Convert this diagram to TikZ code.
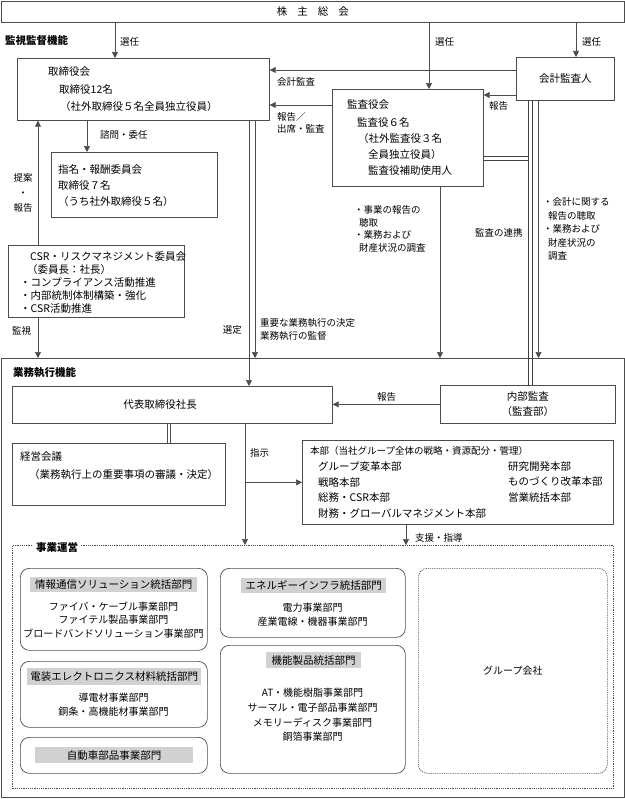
\documentclass[tikz,border=0pt]{standalone}
\usepackage{fontspec}
\setmainfont{Noto Sans CJK JP}
\usetikzlibrary{arrows.meta}

\begin{document}
\begin{tikzpicture}[x=1bp,y=-1bp]
    \tikzset{box/.style = {draw=black!70, line width=0.7bp, anchor=north west, inner sep=0}}
    \tikzset{rbox/.style = {box, rounded corners=9bp}}
    \tikzset{txt/.style = {anchor=west, inner sep=0, font=\fontsize{10.5bp}{12bp}\selectfont}}
    \tikzset{ctxt/.style = {inner sep=0, font=\fontsize{10bp}{12bp}\selectfont}}
    \tikzset{lbl/.style = {anchor=west, inner sep=0, font=\fontsize{9.5bp}{11bp}\selectfont}}
    \tikzset{hdr/.style = {anchor=west, inner sep=0, font=\fontsize{10.5bp}{12bp}\selectfont\bfseries}}
    \tikzset{title/.style = {fill=black!18, inner sep=0, anchor=north west, font=\fontsize{10.5bp}{12bp}\selectfont}}
    \tikzset{edge/.style = {draw=black!70, line width=0.7bp, -{Triangle[length=6bp,width=6bp]}}}
    \tikzset{dbl/.style = {draw=black!70, double, line width=0.6bp, double distance=2.5bp}}
    \tikzset{pline/.style = {draw=black!75, line width=0.7bp}}

    \useasboundingbox (0,0) rectangle (625,799);

    % frames
    \node[box, minimum width=623bp, minimum height=439bp] (gyomu) at (1,358) {};
    \node[box, dash pattern=on 1.2bp off 1bp, minimum width=601bp, minimum height=243bp] (jigyo) at (12,545) {};

    % supervision side
    \node[box, minimum width=623bp, minimum height=21bp, font=\fontsize{10.5bp}{12bp}\selectfont] (soukai) at (1,1)
        {株\hspace{10bp}主\hspace{10bp}総\hspace{10bp}会};
    \node[hdr] at (5,40) {監視監督機能};

    \node[box, minimum width=252bp, minimum height=62bp] (tori) at (17,58) {};
    \node[txt] at (48,72) {取締役会};
    \node[txt] at (59,90) {取締役12名};
    \node[txt] at (60,107) {（社外取締役５名全員独立役員）};

    \node[box, minimum width=98bp, minimum height=43bp, font=\fontsize{10.5bp}{12bp}\selectfont] (kaikei) at (516,57) {会計監査人};

    \node[box, minimum width=151bp, minimum height=97bp] (kansa) at (332,89) {};
    \node[txt] at (347,105) {監査役会};
    \node[txt] at (357,123) {監査役６名};
    \node[txt] at (358,139) {（社外監査役３名};
    \node[txt] at (368,155) {全員独立役員）};
    \node[txt] at (368,171) {監査役補助使用人};

    \node[box, minimum width=166bp, minimum height=65bp] (shimei) at (51,152) {};
    \node[txt] at (58,170) {指名・報酬委員会};
    \node[txt] at (58,186) {取締役７名};
    \node[txt] at (58,202) {（うち社外取締役５名）};

    \node[box, minimum width=176bp, minimum height=72bp] (csr) at (8,245) {};
    \node[txt] at (30,257) {CSR・リスクマネジメント委員会};
    \node[txt] at (27,270) {（委員長：社長）};
    \node[txt] at (20,283) {・コンプライアンス活動推進};
    \node[txt] at (20,296) {・内部統制体制構築・強化};
    \node[txt] at (20,309) {・CSR活動推進};

    % execution side
    \node[hdr] at (13,373) {業務執行機能};
    \node[box, minimum width=320bp, minimum height=37bp] (daihyo) at (12,386) {};
    \node[txt, anchor=center] at (160,405) {代表取締役社長};
    \node[box, minimum width=175bp, minimum height=38bp, align=center, font=\fontsize{10.5bp}{15bp}\selectfont] (naibu) at (440,385) {内部監査\\（監査部）};

    \node[box, minimum width=213bp, minimum height=62bp] (keiei) at (12,443) {};
    \node[txt] at (20,457) {経営会議};
    \node[txt] at (29,475) {（業務執行上の重要事項の審議・決定）};

    \node[box, minimum width=311bp, minimum height=84bp] (honbu) at (302,440) {};
    \node[lbl] at (310,451) {本部（当社グループ全体の戦略・資源配分・管理）};
    \node[txt] at (318,467) {グループ変革本部};
    \node[txt] at (318,482) {戦略本部};
    \node[txt] at (318,498) {総務・CSR本部};
    \node[txt] at (318,514) {財務・グローバルマネジメント本部};
    \node[txt] at (508,467) {研究開発本部};
    \node[txt] at (508,482) {ものづくり改革本部};
    \node[txt] at (508,498) {営業統括本部};

    % business operations
    \node[hdr, fill=white, inner sep=3bp] at (33,547) {事業運営};

    \node[rbox, minimum width=187bp, minimum height=82bp] (joho) at (20,568) {};
    \node[title, minimum width=167bp, minimum height=15bp] (joho-t) at (30,577) {情報通信ソリューション統括部門};
    \node[ctxt] at (113.5,607) {ファイバ・ケーブル事業部門};
    \node[ctxt] at (113.5,620) {ファイテル製品事業部門};
    \node[ctxt] at (113.5,634) {ブロードバンドソリューション事業部門};

    \node[rbox, minimum width=187bp, minimum height=66bp] (densou) at (20,661) {};
    \node[title, minimum width=174bp, minimum height=17bp] (densou-t) at (27,668) {電装エレクトロニクス材料統括部門};
    \node[ctxt] at (113.5,698) {導電材事業部門};
    \node[ctxt] at (113.5,712) {銅条・高機能材事業部門};

    \node[rbox, minimum width=187bp, minimum height=36bp] (jidosha) at (20,737) {};
    \node[title, minimum width=158bp, minimum height=16bp] (jidosha-t) at (35,747) {自動車部品事業部門};

    \node[rbox, minimum width=185bp, minimum height=69bp] (energy) at (220,568) {};
    \node[title, minimum width=145bp, minimum height=15bp] (energy-t) at (241,578) {エネルギーインフラ統括部門};
    \node[ctxt] at (312.5,608) {電力事業部門};
    \node[ctxt] at (312.5,622) {産業電線・機器事業部門};

    \node[rbox, minimum width=185bp, minimum height=128bp] (kinou) at (220,645) {};
    \node[title, minimum width=95bp, minimum height=16bp] (kinou-t) at (266,652) {機能製品統括部門};
    \node[ctxt] at (312.5,693) {AT・機能樹脂事業部門};
    \node[ctxt] at (312.5,708) {サーマル・電子部品事業部門};
    \node[ctxt] at (312.5,723) {メモリーディスク事業部門};
    \node[ctxt] at (312.5,737) {銅箔事業部門};

    \node[rbox, dash pattern=on 1.2bp off 1bp, minimum width=189bp, minimum height=205bp, font=\fontsize{10bp}{12bp}\selectfont] (group) at (418,568) {グループ会社};

    % columns and rows for connectors
    \coordinate (c38) at (38,0);
    \coordinate (c87) at (87,0);
    \coordinate (c115) at (115,0);
    \coordinate (c169) at (169,0);
    \coordinate (c245) at (245,0);
    \coordinate (c249) at (249,0);
    \coordinate (c255) at (255,0);
    \coordinate (c406) at (406,0);
    \coordinate (c429) at (429,0);
    \coordinate (c440) at (440,0);
    \coordinate (c528) at (528.5,0);
    \coordinate (c532) at (532.5,0);
    \coordinate (c538) at (538.5,0);
    \coordinate (c576) at (576,0);
    \coordinate (r70) at (0,70);
    \coordinate (r95) at (0,95);
    \coordinate (r105) at (0,105);
    \coordinate (r156) at (0,156.5);
    \coordinate (r160) at (0,160.5);

    % connectors
    \draw[edge] (soukai.south -| c115) -- (tori.north -| c115);
    \draw[edge] (soukai.south -| c429) -- (kansa.north -| c429);
    \draw[edge] (soukai.south -| c576) -- (kaikei.north -| c576);
    \node[lbl] at (120,42) {選任};
    \node[lbl] at (435,42) {選任};
    \node[lbl] at (582,42) {選任};

    \draw[edge] (kaikei.west |- r70) -- (tori.east |- r70);
    \node[lbl] at (277,82) {会計監査};
    \draw[edge] (kaikei.west |- r95) -- (kansa.east |- r95);
    \node[lbl] at (489,106) {報告};
    \draw[edge] (kansa.west |- r105) -- (tori.east |- r105);
    \node[lbl, align=left, font=\fontsize{9.5bp}{12.5bp}\selectfont] at (277,123) {報告／\\出席・監査};

    \draw[edge] (tori.south -| c87) -- (shimei.north -| c87);
    \node[lbl] at (100,135) {諮問・委任};
    \draw[edge] (csr.north -| c38) -- (tori.south -| c38);
    \node[lbl, anchor=center, align=center, font=\fontsize{9.5bp}{15bp}\selectfont] at (23,193) {提案\\・\\報告};
    \draw[edge] (csr.south -| c38) -- (gyomu.north -| c38);
    \node[lbl] at (12,331) {監視};

    \draw[edge] (tori.south -| c249) -- (daihyo.north -| c249);
    \node[lbl, anchor=east] at (242,330) {選定};
    \draw[edge] (tori.south -| c255) -- (gyomu.north -| c255);
    \node[lbl, align=left, font=\fontsize{9.5bp}{13bp}\selectfont] at (260,329) {重要な業務執行の決定\\業務執行の監督};

    \draw[edge] (kansa.south -| c440) -- (gyomu.north -| c440);
    \node[lbl, align=left, font=\fontsize{9.5bp}{12.5bp}\selectfont] at (354,229) {・事業の報告の\\\hspace{5bp}聴取\\・業務および\\\hspace{5bp}財産状況の調査};

    % audit link, kept as two plain lines each way
    \draw[pline] (kansa.east |- r156) -- (c528 |- r156);
    \draw[pline] (kansa.east |- r160) -- (c528 |- r160);
    \draw[pline] (kaikei.south -| c528) -- (naibu.north -| c528);
    \draw[pline] (kaikei.south -| c532) -- (naibu.north -| c532);
    \node[lbl] at (475,233) {監査の連携};
    \draw[edge] (kaikei.south -| c538) -- (gyomu.north -| c538);
    \node[lbl, align=left, font=\fontsize{9.5bp}{13.5bp}\selectfont] at (543,229) {・会計に関する\\\hspace{5bp}報告の聴取\\・業務および\\\hspace{5bp}財産状況の\\\hspace{5bp}調査};

    \draw[edge] (naibu.west) -- (naibu.west -| daihyo.east);
    \node[lbl] at (377,397) {報告};
    \draw[dbl] (daihyo.south -| c169) -- (keiei.north -| c169);

    \draw[edge] (daihyo.south -| c245) -- (jigyo.north -| c245);
    \draw[edge] (honbu.west -| c245) -- (honbu.west);
    \node[lbl] at (250,453) {指示};
    \draw[edge] (honbu.south -| c406) -- (jigyo.north -| c406);
    \node[lbl] at (415,538) {支援・指導};
\end{tikzpicture}
\end{document}
